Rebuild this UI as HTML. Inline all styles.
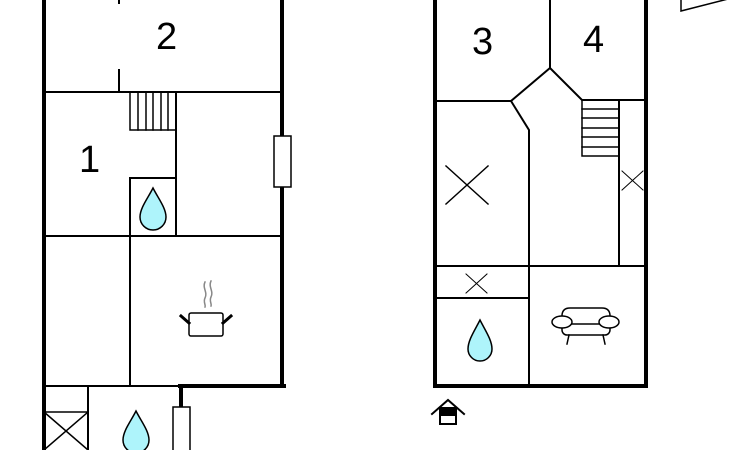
<!DOCTYPE html>
<html><head><style>body{margin:0;background:#fff}svg{display:block}text{font-family:"Liberation Sans",sans-serif;font-size:38px;fill:#000}</style></head>
<body>
<svg width="730" height="450" viewBox="0 0 730 450" xmlns="http://www.w3.org/2000/svg">
<g stroke="#000" fill="none" stroke-linecap="square">
<!-- left building -->
<line x1="44" y1="0" x2="44" y2="450" stroke-width="4"/>
<line x1="282" y1="0" x2="282" y2="386" stroke-width="4"/>
<line x1="180" y1="386" x2="284" y2="386" stroke-width="4"/>
<line x1="44" y1="386" x2="180" y2="386" stroke-width="2"/>
<line x1="181" y1="386" x2="181" y2="408" stroke-width="4"/>
<line x1="44" y1="92" x2="282" y2="92" stroke-width="2"/>
<line x1="119" y1="70" x2="119" y2="92" stroke-width="2"/>
<line x1="119" y1="0" x2="119" y2="3" stroke-width="2"/>
<line x1="44" y1="236" x2="282" y2="236" stroke-width="2"/>
<line x1="176" y1="92" x2="176" y2="236" stroke-width="2"/>
<line x1="130" y1="178" x2="130" y2="386" stroke-width="2"/>
<line x1="130" y1="178" x2="176" y2="178" stroke-width="2"/>
<rect x="130" y="92" width="46" height="38" stroke-width="1.5"/>
<path d="M138 92V130M146 92V130M153 92V130M161 92V130M168 92V130" stroke-width="1.5"/>
<rect x="274" y="136" width="17" height="51" fill="#fff" stroke-width="1.5"/>
<line x1="88" y1="386" x2="88" y2="450" stroke-width="2"/>
<path d="M44 412H88M44 412L88 450M88 412L44 450" stroke-width="1.5"/>
<rect x="173" y="407" width="17" height="50" fill="#fff" stroke-width="1.5"/>
<!-- pot -->
<rect x="189" y="313" width="34" height="23" rx="2" stroke-width="1.5"/>
<path d="M181 316L189 323M231 316L223 323" stroke-width="3"/>
<path d="M205 282c-3 6 3 10 0 16c-2 4 1 7 0 9M211 281c-3 6 3 10 0 16c-2 4 1 7 0 9" stroke="#888" stroke-width="1.5"/>
<!-- right building -->
<rect x="435" y="-10" width="211" height="396" stroke-width="4"/>
<line x1="550" y1="0" x2="550" y2="68" stroke-width="2"/>
<polyline points="435,101 511,101 550,68 582,100 646,100" stroke-width="2"/>
<polyline points="511,101 529,130 529,386" stroke-width="2"/>
<rect x="582" y="100" width="37" height="56" stroke-width="1.5"/>
<path d="M582 109H619M582 118H619M582 128H619M582 137H619M582 147H619" stroke-width="1.5"/>
<line x1="619" y1="100" x2="619" y2="266" stroke-width="2"/>
<path d="M622 171L643 190M643 171L622 190" stroke-width="1"/>
<path d="M446 166L488 204M488 166L446 204" stroke-width="1.5"/>
<line x1="435" y1="266" x2="646" y2="266" stroke-width="2"/>
<line x1="435" y1="298" x2="529" y2="298" stroke-width="2"/>
<path d="M466 274L487 293M487 274L466 293" stroke-width="1"/>
<!-- sofa -->
<g stroke-width="1.5" fill="#fff">
<path d="M562 328V316q0-8 8-8h32q8 0 8 8v12z"/>
<rect x="562" y="324" width="48" height="11" rx="5"/>
<ellipse cx="562" cy="322" rx="10" ry="6"/>
<ellipse cx="609" cy="322" rx="10" ry="6"/>
<path d="M569 335L567 344M603 335L605 344"/>
</g>
<!-- house icon -->
<path d="M432 414L448 400L464 414" stroke-width="2"/>
<rect x="440" y="408" width="16" height="16" stroke-width="2"/>
<rect x="440" y="408" width="16" height="7" fill="#000" stroke-width="2"/>
<!-- top right -->
<path d="M681 0V11L728 -1" stroke-width="1.5"/>
</g>
<!-- drops -->
<g fill="#aef4fb" stroke="#000" stroke-width="1.5">
<path d="M153 188C148 198 140 208 140 217a13 13 0 0 0 26 0C166 208 158 198 153 188z"/>
<path d="M136 411C131 421 123 431 123 440a13 13 0 0 0 26 0C149 431 141 421 136 411z"/>
<path d="M480 320C475 330 468 340 468 349a12 12 0 0 0 24 0C492 340 485 330 480 320z"/>
</g>
<text x="156" y="49">2</text>
<text x="79" y="172">1</text>
<text x="472" y="54">3</text>
<text x="583" y="52">4</text>
</svg>
</body></html>
